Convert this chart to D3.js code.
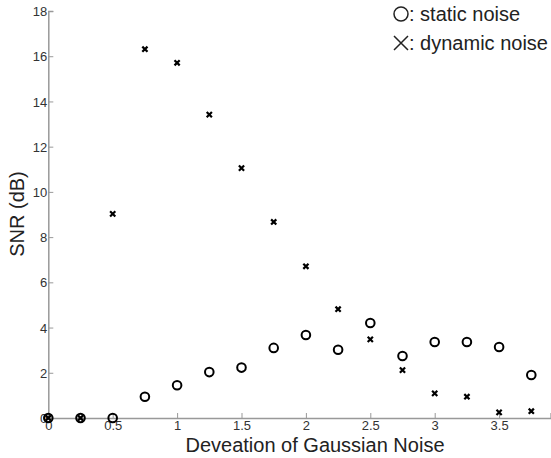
<!DOCTYPE html>
<html>
<head>
<meta charset="utf-8">
<script src="https://cdn.jsdelivr.net/npm/d3@7"></script>
<style>
body { margin: 0; background: #fff; }
text { font-family: "Liberation Sans", Arial, sans-serif; }
</style>
</head>
<body>
<div id="chart"></div>
<script>
var deviation = [0, 0.25, 0.5, 0.75, 1, 1.25, 1.5, 1.75, 2, 2.25, 2.5, 2.75, 3, 3.25, 3.5, 3.75];
var staticNoise = [0, 0, 0, 0.94, 1.45, 2.03, 2.23, 3.10, 3.67, 3.02, 4.20, 2.74, 3.36, 3.36, 3.14, 1.90];
var dynamicNoise = [0, 0, 9.03, 16.31, 15.71, 13.42, 11.05, 8.67, 6.71, 4.81, 3.48, 2.12, 1.09, 0.94, 0.25, 0.30];
var xTicks = [0, 0.5, 1, 1.5, 2, 2.5, 3, 3.5];
var yTicks = [0, 2, 4, 6, 8, 10, 12, 14, 16, 18];

var width = 551, height = 458;
var plotLeft = 48.3, plotTop = 11, plotBottom = 418;

var svg = d3.select("#chart").append("svg")
    .attr("width", width)
    .attr("height", height);

var x = d3.scaleLinear().domain([0, 3.9]).range([plotLeft, plotLeft + 3.9 * 128.8]);
var y = d3.scaleLinear().domain([0, 18]).range([plotBottom, plotTop]);

// x axis, ticks point up into the plot
var xAxis = svg.append("g")
    .attr("transform", "translate(0," + plotBottom + ")")
    .call(d3.axisBottom(x).tickValues(xTicks).tickSize(-5).tickPadding(2)
        .tickFormat(function (d) { return d; }));
// y axis, ticks point right
var yAxis = svg.append("g")
    .attr("transform", "translate(" + plotLeft + ",0)")
    .call(d3.axisLeft(y).tickValues(yTicks).tickSize(-5).tickPadding(1));

[xAxis, yAxis].forEach(function (a) {
    a.select(".domain").attr("stroke", "#999").attr("stroke-width", 1.5);
    a.selectAll(".tick line").attr("stroke", "#999");
    a.selectAll(".tick text").attr("fill", "#333").style("font-size", "13px");
});
xAxis.selectAll(".tick text").attr("dy", "0.75em");
yAxis.selectAll(".tick text").attr("dy", "0.35em");

// static noise (circles)
svg.append("g").selectAll("circle")
    .data(deviation)
    .enter().append("circle")
    .attr("cx", function (d) { return x(d); })
    .attr("cy", function (d, i) { return y(staticNoise[i]); })
    .attr("r", 4.3)
    .attr("fill", "none")
    .attr("stroke", "#000")
    .attr("stroke-width", 2);

// dynamic noise (crosses)
var s = 2.6;
svg.append("g").selectAll("path")
    .data(deviation)
    .enter().append("path")
    .attr("d", function (d, i) {
        var cx = x(d), cy = y(dynamicNoise[i]);
        return "M" + (cx - s) + "," + (cy - s) + "L" + (cx + s) + "," + (cy + s) +
            "M" + (cx - s) + "," + (cy + s) + "L" + (cx + s) + "," + (cy - s);
    })
    .attr("stroke", "#000")
    .attr("stroke-width", 2.2);

// legend
var legend = svg.append("g");
legend.append("circle").attr("cx", 401).attr("cy", 14).attr("r", 7)
    .attr("fill", "none").attr("stroke", "#222").attr("stroke-width", 1.5);
legend.append("path")
    .attr("d", "M394,36L408,50M394,50L408,36")
    .attr("stroke", "#222").attr("stroke-width", 1.5);
legend.append("text").attr("x", 409).attr("y", 21)
    .style("font-size", "20px").attr("fill", "#222")
    .text(": static noise");
legend.append("text").attr("x", 409).attr("y", 50)
    .style("font-size", "20px").attr("fill", "#222")
    .text(": dynamic noise");

// axis labels
svg.append("text")
    .attr("x", 315).attr("y", 452)
    .attr("text-anchor", "middle")
    .style("font-size", "20px").attr("fill", "#222")
    .text("Deveation of Gaussian Noise");
svg.append("text")
    .attr("transform", "translate(24,214) rotate(-90)")
    .attr("text-anchor", "middle")
    .style("font-size", "20px").attr("fill", "#222")
    .text("SNR (dB)");
</script>
</body>
</html>
